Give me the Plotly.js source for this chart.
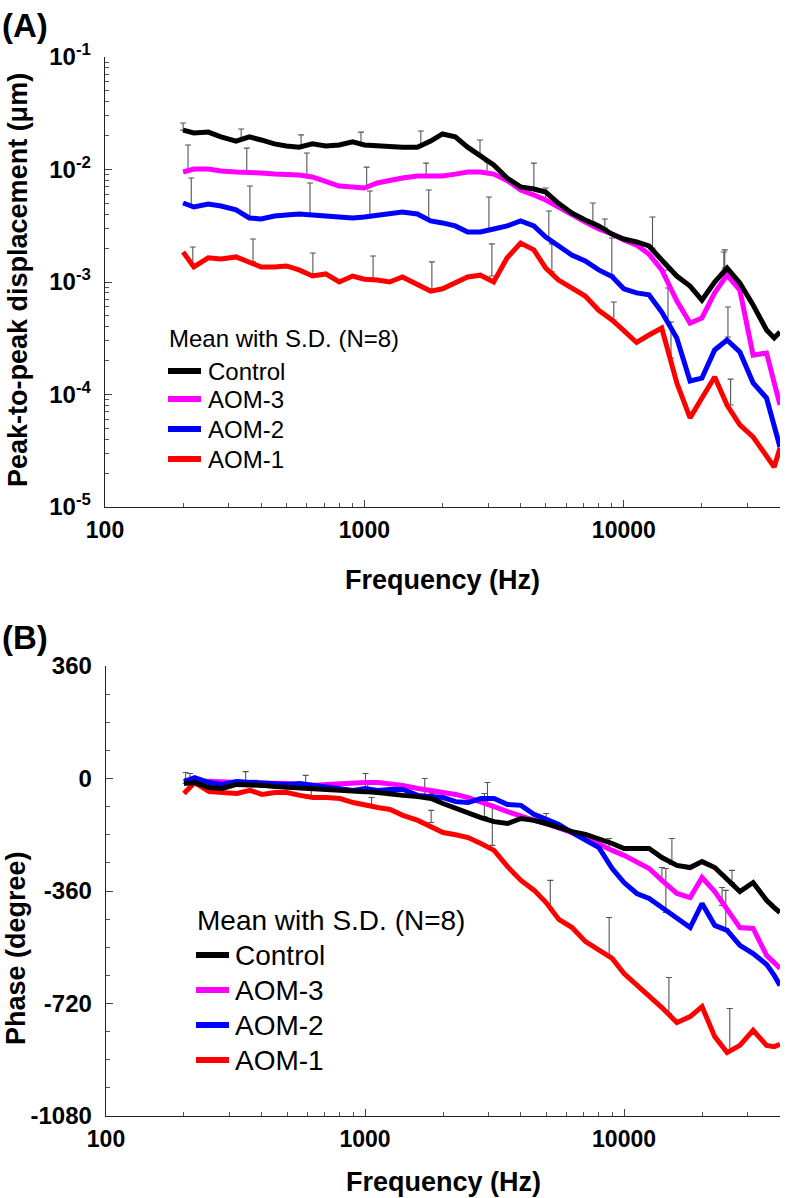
<!DOCTYPE html>
<html><head><meta charset="utf-8">
<script src="https://cdn.plot.ly/plotly-3.0.1.min.js"></script>
<style>html,body{margin:0;padding:0;background:#fff;} #chart{width:786px;height:1198px;}</style>
</head><body><div id="chart"></div>
<script>
// ---------------- data ----------------
const freq = [200,220,250,280,320,360,400,450,500,560,630,710,800,900,1000,1120,1250,1400,1600,1800,2000,2240,2500,2800,3150,3550,4000,4500,5000,5600,6300,7100,8000,9000,10000,11200,12500,14000,16000,18000,20000,22400,25000,28000,31500,35500,38000,40000];

const seriesNames = ['Control','AOM-3','AOM-2','AOM-1'];
const seriesColors = ['#000000','#ff00ff','#0000ff','#ff0000'];

// Peak-to-peak displacement (um)
const ampControl = [0.0224,0.0211,0.0215,0.0195,0.0179,0.0195,0.0183,0.0169,0.0162,0.0158,0.0169,0.0162,0.0165,0.0176,0.0165,0.0162,0.0162,0.0158,0.0158,0.0179,0.0207,0.0195,0.0158,0.0132,0.0110,0.0084,0.0070,0.0067,0.0063,0.0050,0.0041,0.00356,0.00315,0.00267,0.00241,0.00227,0.00209,0.00157,0.00113,0.00092,0.00069,0.00100,0.00133,0.00098,0.000625,0.000374,0.000318,0.00036];
const ampAOM3 = [0.0095,0.0101,0.0101,0.0097,0.0095,0.0095,0.0093,0.0091,0.0091,0.00894,0.00858,0.00774,0.00713,0.00699,0.00685,0.00759,0.00807,0.0084,0.00876,0.00876,0.00876,0.0091,0.0095,0.0095,0.0091,0.0080,0.00657,0.00593,0.00536,0.00464,0.00394,0.00341,0.00296,0.00267,0.00236,0.00213,0.00177,0.00128,0.00068,0.000432,0.000479,0.0008,0.00115,0.000849,0.000224,0.000234,0.000127,0.0000807];
const ampAOM2 = [0.00504,0.00464,0.00493,0.00474,0.00437,0.00371,0.00363,0.00386,0.00394,0.00402,0.00394,0.00386,0.00371,0.00371,0.00378,0.00394,0.0041,0.00419,0.00402,0.00349,0.00335,0.00315,0.00278,0.00278,0.00296,0.00315,0.00349,0.00315,0.00251,0.0021,0.00174,0.00154,0.00128,0.00112,0.00087,0.0008,0.00077,0.000541,0.000318,0.000132,0.00014,0.000249,0.000305,0.000239,0.000127,0.0000931,0.000053,0.0000341];
const ampAOM1 = [0.00185,0.00136,0.00164,0.0016,0.00167,0.00151,0.00136,0.00136,0.00139,0.00128,0.00113,0.00118,0.0010,0.00113,0.00106,0.00104,0.0010,0.00111,0.00094,0.00083,0.00087,0.00098,0.00111,0.00115,0.0010,0.00164,0.00222,0.00193,0.00133,0.00104,0.00089,0.00075,0.00056,0.00046,0.00037,0.00029,0.000338,0.00039,0.000127,0.000062,0.000093,0.000143,0.0000806,0.0000536,0.0000419,0.000029,0.0000227,0.0000335];

// Phase (degree)
const phControl = [-16,-13,-29,-32,-19,-19,-22,-26,-29,-29,-32,-35,-38,-38,-42,-45,-51,-54,-58,-64,-80,-96,-109,-125,-138,-144,-128,-134,-144,-157,-170,-179,-192,-208,-224,-224,-224,-253,-278,-285,-266,-285,-323,-362,-333,-390,-413,-429];
const phAOM3 = [-6,-6,-6,-10,-13,-13,-13,-16,-16,-19,-22,-19,-16,-16,-13,-13,-16,-22,-32,-38,-45,-51,-61,-74,-90,-106,-122,-134,-144,-160,-173,-189,-211,-230,-246,-269,-288,-326,-368,-381,-317,-362,-422,-477,-480,-566,-589,-608];
const phAOM2 = [-10,3,-13,-19,-10,-13,-16,-19,-19,-16,-22,-26,-32,-38,-32,-38,-35,-35,-54,-58,-61,-74,-77,-64,-64,-83,-86,-115,-131,-147,-173,-195,-221,-288,-333,-368,-384,-413,-448,-477,-400,-470,-486,-534,-560,-595,-630,-662];
const phAOM1 = [-48,-13,-42,-45,-48,-38,-51,-45,-45,-54,-61,-61,-64,-77,-86,-93,-99,-118,-134,-157,-173,-180,-189,-208,-230,-282,-326,-358,-397,-451,-477,-522,-550,-576,-624,-659,-694,-733,-781,-762,-730,-826,-877,-854,-806,-854,-858,-851];

// S.D. bars (upper side only): frequency, mean and mean+S.D.
const sdAmpFreqControl = [200,335,570,970,1650,2790,4500,7600,12900,24500];
const sdAmpMeanControl = [0.0224,0.0187,0.0158,0.0169,0.0162,0.0135,0.0067,0.00341,0.00200,0.00133];
const sdAmpTopControl  = [0.0259,0.0229,0.0203,0.0215,0.022,0.0183,0.0114,0.00504,0.00378,0.00193];
const sdAmpFreqAOM3 = [209,352,600,1020,1730,2970,5000,8450,14400,24300];
const sdAmpMeanAOM3 = [0.0099,0.0095,0.00894,0.00699,0.00876,0.0095,0.00536,0.00302,0.00113,0.00118];
const sdAmpTopAOM3  = [0.0165,0.0155,0.014,0.0105,0.0114,0.0117,0.00685,0.00363,0.00128,0.00185];
const sdAmpFreqAOM2 = [215,362,617,1050,1770,3020,5140,8990,14800,25200];
const sdAmpMeanAOM2 = [0.00474,0.00371,0.00394,0.00378,0.00356,0.0029,0.0024,0.00115,0.00044,0.000324];
const sdAmpTopAOM2  = [0.0084,0.00713,0.00759,0.00644,0.00657,0.0057,0.00428,0.00246,0.000885,0.0006];
const sdAmpFreqAOM1 = [218,372,633,1080,1820,3100,5280,9150,15200,25800];
const sdAmpMeanAOM1 = [0.00139,0.00151,0.00118,0.00104,0.000832,0.00113,0.00123,0.00046,0.000211,0.0000806];
const sdAmpTopAOM1  = [0.00205,0.00241,0.00181,0.0017,0.00151,0.00218,0.00218,0.000664,0.000441,0.000137];

const sdPhFreqControl = [203,346,590,1004,1700,2890,5005,15300,26100];
const sdPhMeanControl = [-16,-19,-29,-42,-61,-122,-144,-275,-333];
const sdPhTopControl  = [19,22,10,16,0,-48,-112,-192,-294];
const sdPhFreqAOM3 = [211,2970,4915,8760,14000,23900];
const sdPhMeanAOM3 = [-6,-80,-141,-224,-326,-406];
const sdPhTopAOM3  = [16,-13,-128,-192,-285,-349];
const sdPhFreqAOM2 = [375,633,1024,1820,14500,24700];
const sdPhMeanAOM2 = [-16,-26,-35,-61,-429,-480];
const sdPhTopAOM2  = [-6,-16,-16,-48,-288,-358];
const sdPhFreqAOM1 = [620,1060,1800,3100,5190,8760,14900,25600];
const sdPhMeanAOM1 = [-61,-86,-141,-214,-413,-570,-752,-870];
const sdPhTopAOM1  = [-38,-61,-102,-86,-326,-445,-637,-736];

const xTickVals = [100,1000,10000];
const xTickText = ['100','1000','10000'];
const ampTickVals = [1e-5,1e-4,1e-3,1e-2,1e-1];
const ampTickText = ['10<sup>-5</sup>','10<sup>-4</sup>','10<sup>-3</sup>','10<sup>-2</sup>','10<sup>-1</sup>'];
const phTickVals = [360,0,-360,-720,-1080];
const phTickText = ['360','0','-360','-720','-1080'];

// ---------------- build ----------------
const W = 786, H = 1198, ML = 105, MR = 6;
const PW = W - ML - MR;
const px = x => (x - ML) / PW;     // pixel -> paper x
const py = y => 1 - y / H;         // pixel -> paper y

function minorLog(lo, hi) {
  const v = [];
  for (let e = lo; e < hi; e++) for (let m = 2; m <= 9; m++) v.push(m * Math.pow(10, e));
  return v;
}
const xMinor = minorLog(2, 5).filter(v => v <= 40000);
const yMinor = minorLog(-5, -1);

const ampSeries = [ampControl, ampAOM3, ampAOM2, ampAOM1];
const phSeries = [phControl, phAOM3, phAOM2, phAOM1];
const sdAmp = [
  [sdAmpFreqControl, sdAmpMeanControl, sdAmpTopControl],
  [sdAmpFreqAOM3, sdAmpMeanAOM3, sdAmpTopAOM3],
  [sdAmpFreqAOM2, sdAmpMeanAOM2, sdAmpTopAOM2],
  [sdAmpFreqAOM1, sdAmpMeanAOM1, sdAmpTopAOM1]];
const sdPh = [
  [sdPhFreqControl, sdPhMeanControl, sdPhTopControl],
  [sdPhFreqAOM3, sdPhMeanAOM3, sdPhTopAOM3],
  [sdPhFreqAOM2, sdPhMeanAOM2, sdPhTopAOM2],
  [sdPhFreqAOM1, sdPhMeanAOM1, sdPhTopAOM1]];

const traces = [];
function sdTrace(d, xa, ya) {
  return {
    x: d[0], y: d[1], xaxis: xa, yaxis: ya, type: 'scatter', mode: 'markers',
    marker: {size: 2, color: 'rgba(0,0,0,0)'}, showlegend: false, hoverinfo: 'skip',
    error_y: {type: 'data', symmetric: false,
      array: d[2].map((t, i) => t - d[1][i]), arrayminus: d[1].map(() => 0),
      color: '#555555', thickness: 1.1, width: 3}
  };
}
for (let s = 0; s < 4; s++) traces.push(sdTrace(sdAmp[s], 'x', 'y'));
for (let s = 0; s < 4; s++) traces.push(sdTrace(sdPh[s], 'x2', 'y2'));
const drawOrder = [3, 1, 2, 0];
drawOrder.forEach(s => {
  traces.push({x: freq, y: ampSeries[s], xaxis: 'x', yaxis: 'y', type: 'scatter', mode: 'lines',
    name: seriesNames[s], line: {color: seriesColors[s], width: 5}, showlegend: false});
  traces.push({x: freq, y: phSeries[s], xaxis: 'x2', yaxis: 'y2', type: 'scatter', mode: 'lines',
    name: seriesNames[s], line: {color: seriesColors[s], width: 5}, showlegend: false});
});

const FONT = 'Liberation Sans, Arial, Helvetica, sans-serif';
function xAxis(anchor, domain) {
  return {type: 'log', range: [2, Math.log10(40000)], domain: domain, anchor: anchor,
    showline: true, linecolor: '#222', linewidth: 1.3, mirror: false,
    ticks: 'inside', ticklen: 7, tickwidth: 1, tickcolor: '#444',
    tickmode: 'array', tickvals: xTickVals, ticktext: xTickText,
    tickfont: {family: FONT, size: 23, color: '#000', weight: 'bold'},
    ticklabelstandoff: 2,
    minor: {tickmode: 'array', tickvals: xMinor, ticks: 'inside', ticklen: 4, tickwidth: 1, tickcolor: '#555', showgrid: false},
    showgrid: false, zeroline: false};
}
const layout = {
  width: W, height: H, margin: {l: ML, r: MR, t: 0, b: 0},
  paper_bgcolor: '#fff', plot_bgcolor: '#fff', showlegend: false,
  xaxis: xAxis('y', [0, 1]),
  xaxis2: xAxis('y2', [0.0015, 1]),
  yaxis: {type: 'log', range: [-5, -1], domain: [py(507), py(57)], anchor: 'x',
    showline: true, linecolor: '#222', linewidth: 1.3,
    ticks: 'inside', ticklen: 7, tickwidth: 1, tickcolor: '#444',
    tickmode: 'array', tickvals: ampTickVals, ticktext: ampTickText,
    tickfont: {family: FONT, size: 24, color: '#000', weight: 'bold'},
    ticklabelstandoff: 8,
    minor: {tickmode: 'array', tickvals: yMinor, ticks: 'inside', ticklen: 4, tickwidth: 1, tickcolor: '#555', showgrid: false},
    showgrid: false, zeroline: false},
  yaxis2: {type: 'linear', range: [-1080, 360], domain: [py(1116), py(666)], anchor: 'x2',
    showline: true, linecolor: '#222', linewidth: 1.3,
    ticks: 'inside', ticklen: 7, tickwidth: 1, tickcolor: '#444',
    tickmode: 'array', tickvals: phTickVals, ticktext: phTickText,
    tickfont: {family: FONT, size: 24, color: '#000', weight: 'bold'},
    ticklabelstandoff: 8,
    minor: {tick0: 0, dtick: 90, ticks: 'inside', ticklen: 4, tickwidth: 1, tickcolor: '#555', showgrid: false},
    showgrid: false, zeroline: false},
  annotations: [], shapes: []
};

function ann(text, x, y, size, opts) {
  layout.annotations.push(Object.assign({text: text, xref: 'paper', yref: 'paper', x: px(x), y: py(y),
    showarrow: false, xanchor: 'left', yanchor: 'middle',
    font: {family: FONT, size: size, color: '#000'}}, opts || {}));
}
// panel labels
ann('(A)', 0, 25, 33, {font: {family: FONT, size: 33, color: '#000', weight: 'bold'}});
ann('(B)', 0, 637, 33, {font: {family: FONT, size: 33, color: '#000', weight: 'bold'}});
// axis titles
const titleFont = {family: FONT, size: 27, color: '#000', weight: 'bold'};
ann('Peak-to-peak displacement (μm)', 18, 280, 27, {xanchor: 'center', textangle: -90, font: titleFont});
ann('Phase (degree)', 16, 948, 27, {xanchor: 'center', textangle: -90, font: titleFont});
ann('Frequency (Hz)', 442, 580, 27, {xanchor: 'center', font: titleFont});
ann('Frequency (Hz)', 443, 1182, 27, {xanchor: 'center', font: titleFont});

// legends (one per panel)
function legend(x0, yTitle, ys, size, swLen, gap) {
  ann('Mean with S.D. (N=8)', x0 - 1, yTitle, size);
  seriesNames.forEach((n, i) => {
    layout.shapes.push({type: 'line', xref: 'paper', yref: 'paper',
      x0: px(x0), x1: px(x0 + swLen), y0: py(ys[i]), y1: py(ys[i]),
      line: {color: seriesColors[i], width: 6}});
    ann(n, x0 + swLen + gap, ys[i], size);
  });
}
legend(168, 338, [371, 399, 429, 459], 24, 33, 5);
legend(196, 920, [955, 990, 1025, 1060], 28, 33, 4);

Plotly.newPlot('chart', traces, layout, {staticPlot: true, displayModeBar: false});
</script>
</body></html>
